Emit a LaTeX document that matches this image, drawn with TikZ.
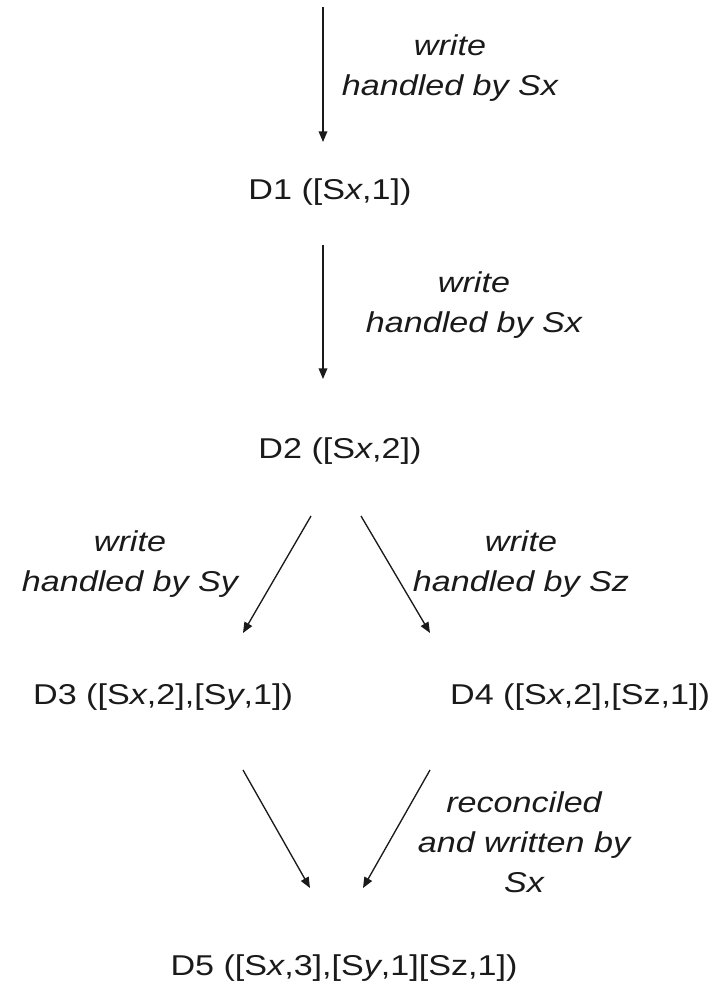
\documentclass[tikz,border=0pt]{standalone}
\usepackage{fontspec}
\setmainfont{Liberation Sans}[FakeStretch=1.19]
\usetikzlibrary{arrows.meta}
\definecolor{ink}{HTML}{1A1A1A}
\begin{document}
\begin{tikzpicture}[x=0.75pt,y=-0.75pt,
  every node/.style={inner sep=0pt, text=ink},
  state/.style={anchor=base, font=\fontsize{21.5}{30}\selectfont},
  note/.style={align=center, font=\fontsize{21.5}{30}\selectfont\itshape},
  flow/.style={draw=ink, line width=1pt, -{Triangle[length=8pt,width=6.5pt]}}]
\useasboundingbox (0,0) rectangle (717,986);

% version states
\node[state] (d1) at (330,199) {D1 ([S\textit{x},1])};
\node[state] (d2) at (340,458) {D2 ([S\textit{x},2])};
\node[state] (d3) at (163,704) {D3 ([S\textit{x},2],[S\textit{y},1])};
\node[state] (d4) at (580,704) {D4 ([S\textit{x},2],[Sz,1])};
\node[state] (d5) at (344,975) {D5 ([S\textit{x},3],[S\textit{y},1][Sz,1])};

% arrow end points
\coordinate (in) at (323,7);
\coordinate (a1e) at (323,142);
\coordinate (a2s) at (323,245);
\coordinate (a2e) at (323,379);
\coordinate (a3s) at (311,516);
\coordinate (a3e) at (243,633);
\coordinate (a4s) at (361,516);
\coordinate (a4e) at (430,633);
\coordinate (a5s) at (243,770);
\coordinate (a5e) at (310,888);
\coordinate (a6s) at (430,770);
\coordinate (a6e) at (363,888);

% transitions
\draw[flow] (in) -- (a1e);
\draw[flow] (a2s) -- (a2e);
\draw[flow] (a3s) -- (a3e);
\draw[flow] (a4s) -- (a4e);
\draw[flow] (a5s) -- (a5e);
\draw[flow] (a6s) -- (a6e);

% transition labels
\node[note] (l1) at (450,68) {write\\handled by Sx};
\node[note] (l2) at (474,305) {write\\handled by Sx};
\node[note] (l3) at (130,564) {write\\handled by Sy};
\node[note] (l4) at (521,564) {write\\handled by Sz};
\node[note] (l5) at (524,842) {reconciled\\and written by\\Sx};
\end{tikzpicture}
\end{document}
